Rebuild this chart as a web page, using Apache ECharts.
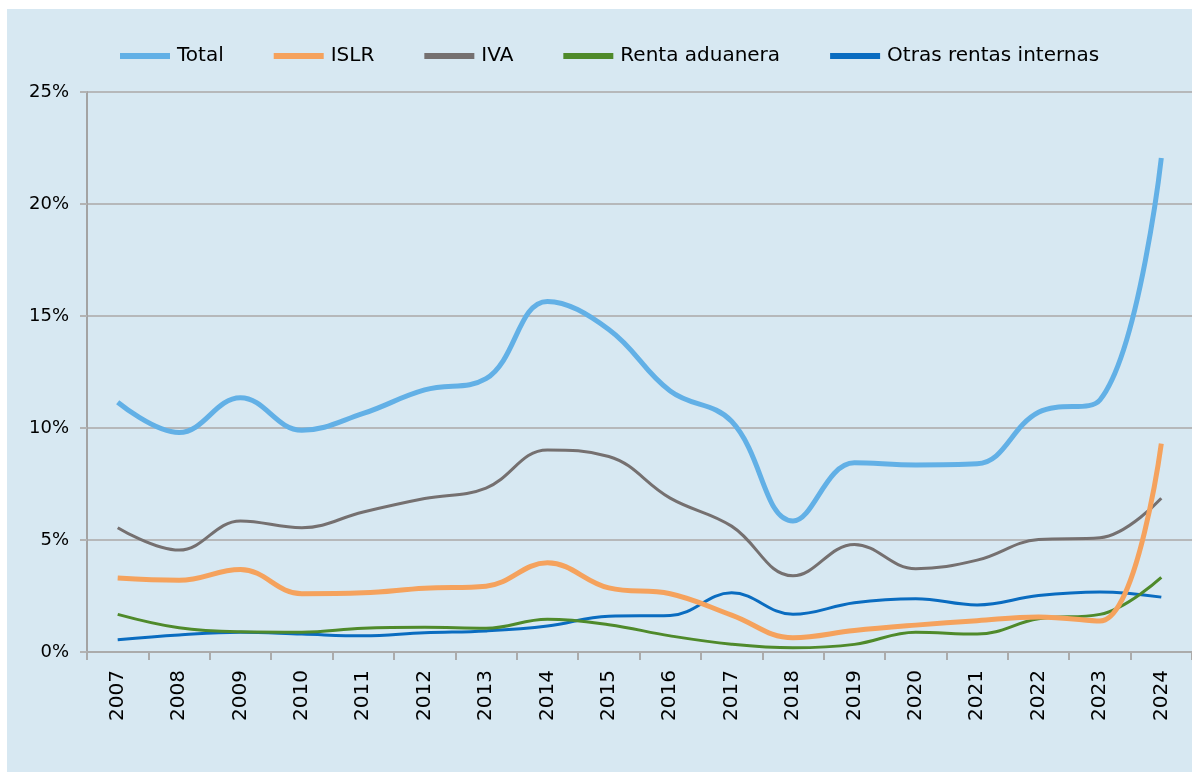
<!DOCTYPE html>
<html>
<head>
<meta charset="utf-8">
<script src="https://cdn.jsdelivr.net/npm/echarts@6/dist/echarts.min.js"></script>
<style>
  body { margin: 0; background: #ffffff; }
  #chart { position: absolute; left: 7px; top: 9px; width: 1185px; height: 763px; }
</style>
</head>
<body>
<div id="chart"></div>
<script>
var years = ['2007','2008','2009','2010','2011','2012','2013','2014','2015','2016','2017','2018','2019','2020','2021','2022','2023','2024'];
var total = [11.15, 9.8, 11.35, 9.9, 10.65, 11.7, 12.2, 15.65, 14.4, 11.65, 10.3, 5.85, 8.45, 8.35, 8.4, 10.7, 11.25, 22.05];
var islr = [3.3, 3.2, 3.68, 2.6, 2.64, 2.85, 2.94, 3.98, 2.86, 2.6, 1.65, 0.64, 0.96, 1.2, 1.4, 1.56, 1.38, 9.3];
var iva = [5.55, 4.55, 5.85, 5.55, 6.25, 6.85, 7.32, 9.02, 8.73, 6.87, 5.62, 3.4, 4.8, 3.72, 4.1, 5.02, 5.1, 6.86];
var aduanera = [1.68, 1.08, 0.9, 0.88, 1.06, 1.1, 1.06, 1.46, 1.22, 0.72, 0.35, 0.19, 0.34, 0.88, 0.8, 1.48, 1.68, 3.33];
var otras = [0.55, 0.76, 0.88, 0.8, 0.72, 0.86, 0.94, 1.16, 1.6, 1.63, 2.64, 1.68, 2.2, 2.38, 2.1, 2.52, 2.68, 2.45];
var yTicks = [0, 5, 10, 15, 20, 25];

var names = ['Total', 'ISLR', 'IVA', 'Renta aduanera', 'Otras rentas internas'];
var colors = ['#62b0e6', '#f5a25d', '#757070', '#4f8a2b', '#0a6cc0'];
var widths = [5, 5, 3, 3, 3];
var values = [total, islr, iva, aduanera, otras];

var series = [];
for (var i = 0; i < names.length; i++) {
  series.push({
    name: names[i],
    type: 'line',
    data: values[i],
    smooth: 0.4,
    symbol: 'none',
    z: 10 - i,
    lineStyle: { color: colors[i], width: widths[i] },
    itemStyle: { color: colors[i] }
  });
}

var myChart = echarts.init(document.getElementById('chart'));
var option = {
  backgroundColor: '#d7e8f2',
  animation: false,
  textStyle: { fontFamily: 'DejaVu Sans' },
  legend: {
    left: 108,
    top: 32,
    icon: 'rect',
    itemWidth: 50,
    itemHeight: 6,
    itemGap: 50,
    textStyle: { fontFamily: 'DejaVu Sans', fontSize: 20, color: '#000', padding: [0, 0, 0, 2] },
    data: names
  },
  grid: { left: 80, top: 83, width: 1107, height: 560 },
  xAxis: {
    type: 'category',
    data: years,
    boundaryGap: true,
    axisLine: { lineStyle: { color: '#ababab', width: 2 } },
    axisTick: { show: true, length: 8, lineStyle: { color: '#ababab', width: 2 } },
    axisLabel: { rotate: 90, margin: 18, fontSize: 20, color: '#000', fontFamily: 'DejaVu Sans' }
  },
  yAxis: {
    type: 'value',
    min: 0,
    max: 25,
    interval: 5,
    axisLine: { show: true, lineStyle: { color: '#a3a3a3', width: 2 } },
    axisTick: { show: true, length: 7, lineStyle: { color: '#b3b3b3', width: 2 } },
    splitLine: { lineStyle: { color: '#b6b8ba', width: 2 } },
    axisLabel: {
      margin: 18,
      fontSize: 18,
      color: '#000',
      fontFamily: 'DejaVu Sans',
      formatter: function (v) { return yTicks.indexOf(v) >= 0 ? v + '%' : ''; }
    }
  },
  series: series
};
myChart.setOption(option);
</script>
</body>
</html>
